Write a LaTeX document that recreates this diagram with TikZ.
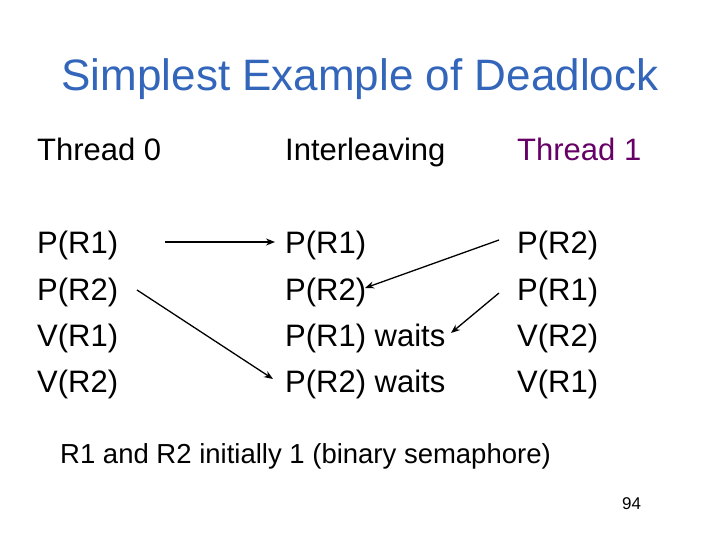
\documentclass[tikz,border=0pt]{standalone}
\usepackage{fontspec}
\setmainfont{Liberation Sans}
\usetikzlibrary{positioning}
\usetikzlibrary{arrows.meta}
\definecolor{titleblue}{RGB}{51,102,187}
\definecolor{threadpurple}{RGB}{102,0,102}
\begin{document}
\begin{tikzpicture}[x=1pt,y=-1pt,
  txt/.style={anchor=base west, inner sep=0pt, font=\fontsize{31}{36}\selectfont},
  arr/.style={-{Stealth[length=9pt,width=7pt]}, line width=1.3pt}]
\useasboundingbox (0,0) rectangle (720,540);
\node[anchor=base, inner sep=0pt, text=titleblue, font=\fontsize{44}{50}\selectfont] (title) at (360,91) {Simplest Example of Deadlock};
% column headers
\node[txt] (h0) at (37,161) {Thread 0};
\node[txt] (hi) at (285,161) {Interleaving};
\node[txt, text=threadpurple] (h1) at (517,161) {Thread 1};
% thread 0
\node[txt] (a1) at (37,253) {P(R1)};
\node[txt] (a2) at (37,300) {P(R2)};
\node[txt] (a3) at (37,346) {V(R1)};
\node[txt] (a4) at (37,392) {V(R2)};
% interleaving
\node[txt] (i1) at (285,253) {P(R1)};
\node[txt] (i2) at (285,300) {P(R2)};
\node[txt] (i3) at (285,346) {P(R1) waits};
\node[txt] (i4) at (285,392) {P(R2) waits};
% thread 1
\node[txt] (b1) at (517,253) {P(R2)};
\node[txt] (b2) at (517,300) {P(R1)};
\node[txt] (b3) at (517,346) {V(R2)};
\node[txt] (b4) at (517,392) {V(R1)};
% arrow ends
\coordinate (s1) at (165,242);
\coordinate (e1) at (275,242);
\coordinate (s2) at (137,290);
\coordinate (e2) at (273,379);
\coordinate (s3) at (499,240);
\coordinate (e3) at (365,288);
\coordinate (s4) at (499,293);
\coordinate (e4) at (451,333);
\draw[arr] (s1) -- (e1);
\draw[arr] (s2) -- (e2);
\draw[arr] (s3) -- (e3);
\draw[arr] (s4) -- (e4);
% footnote
\node[anchor=base west, inner sep=0pt, font=\fontsize{27.5}{32}\selectfont] (note) at (60,463) {R1 and R2 initially 1 (binary semaphore)};
\node[anchor=base west, inner sep=0pt, font=\fontsize{17}{20}\selectfont] (page) at (622,509) {94};
\end{tikzpicture}
\end{document}
